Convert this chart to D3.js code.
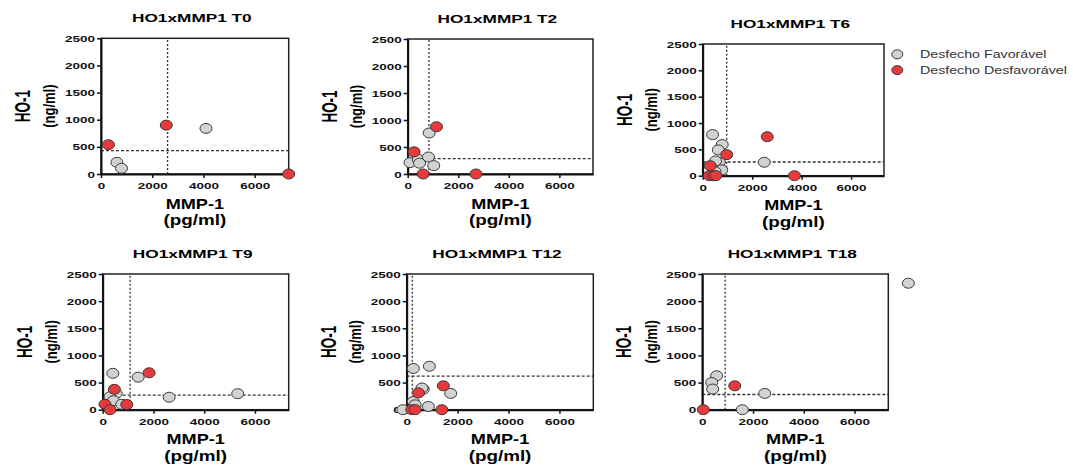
<!DOCTYPE html>
<html>
<head>
<meta charset="utf-8">
<script src="https://cdn.jsdelivr.net/npm/d3@7"></script>
<style>
  body { margin: 0; background: #fff; }
  svg { font-family: "Liberation Sans", Arial, sans-serif; }
</style>
</head>
<body>
<svg id="chart" width="1073" height="465"></svg>
<script>
// values, [MMP-1 pg/ml, HO-1 ng/ml]
const timepoints = ["T0", "T2", "T6", "T9", "T12", "T18"];

const favT0 = [[620, 215], [800, 105], [4100, 840]];
const desT0 = [[290, 540], [2550, 900], [7330, 0]];

const favT2 = [[90, 210], [420, 270], [470, 200], [820, 315], [1030, 155], [850, 760]];
const desT2 = [[250, 410], [1140, 875], [610, 0], [2700, 0]];

const favT6 = [[400, 780], [790, 590], [630, 490], [670, 255], [520, 280], [770, 110], [500, 75], [2490, 255]];
const desT6 = [[300, 190], [270, 0], [440, 0], [530, 0], [970, 400], [2610, 740], [3710, 0]];

const favT9 = [[400, 670], [1400, 600], [530, 300], [290, 240], [420, 165], [750, 100], [2620, 230], [5320, 295]];
const desT9 = [[460, 375], [1830, 680], [90, 100], [290, 0], [950, 95]];

const favT12 = [[260, 760], [890, 800], [1730, 300], [650, 375], [600, 400], [260, 150], [330, 90], [850, 60], [-150, 0]];
const desT12 = [[460, 310], [1440, 440], [200, 0], [330, 0], [1380, 0]];

const favT18 = [[565, 625], [370, 500], [410, 380], [2460, 300], [1580, 0], [8120, 2330]];
const desT18 = [[40, 0], [1280, 440]];

// cut-off lines (dotted)
const cutoffX = [2600, 840, 970, 1080, 220, 900];
const cutoffY = [430, 285, 260, 270, 620, 280];

const xTicks = [0, 2000, 4000, 6000];
const yTicks = [0, 500, 1000, 1500, 2000, 2500];
const xMax = 7330, yMax = 2500;
const legendLabels = ["Desfecho Favorável", "Desfecho Desfavorável"];

const favorable = [favT0, favT2, favT6, favT9, favT12, favT18];
const unfavorable = [desT0, desT2, desT6, desT9, desT12, desT18];

// panel frames in page pixels
const boxes = [
  { l: 101, r: 288.7, t: 38.3, b: 174 },
  { l: 407.7, r: 593, t: 39, b: 174 },
  { l: 702.7, r: 884, t: 44, b: 175.7 },
  { l: 102.7, r: 288.7, t: 274, b: 409.7 },
  { l: 406.7, r: 593.3, t: 274, b: 409.7 },
  { l: 702.3, r: 888.3, t: 274, b: 409.7 }
];

const grayFill = "#d2d2d2", redFill = "#e8393b", edge = "#3a3a3a";

const svg = d3.select("#chart");

// stretched text, the picture is wider than tall
function label(g, x, y, txt, size, sx, weight, rotate) {
  return g.append("text")
    .attr("transform", `translate(${x},${y}) scale(${sx},1)` + (rotate ? " rotate(-90)" : ""))
    .attr("text-anchor", "middle")
    .attr("dy", rotate ? "0.35em" : null)
    .style("font-size", size + "px")
    .style("font-weight", weight)
    .text(txt);
}

timepoints.forEach((tp, i) => {
  const box = boxes[i];
  const x = d3.scaleLinear().domain([0, xMax]).range([box.l, box.r]);
  const y = d3.scaleLinear().domain([0, yMax]).range([box.b, box.t]);
  const g = svg.append("g");
  const cx = (box.l + box.r) / 2;
  const cy = (box.t + box.b) / 2;

  g.append("rect")
    .attr("x", box.l).attr("y", box.t)
    .attr("width", box.r - box.l).attr("height", box.b - box.t)
    .attr("fill", "none").attr("stroke", "#222").attr("stroke-width", 1.5);

  // cut-offs
  g.append("line")
    .attr("x1", x(cutoffX[i])).attr("x2", x(cutoffX[i]))
    .attr("y1", box.b).attr("y2", box.t)
    .attr("stroke", "#333").attr("stroke-width", 1.3).attr("stroke-dasharray", "2,2");
  g.append("line")
    .attr("x1", box.l).attr("x2", box.r)
    .attr("y1", y(cutoffY[i])).attr("y2", y(cutoffY[i]))
    .attr("stroke", "#333").attr("stroke-width", 1.3).attr("stroke-dasharray", "3,2");

  const yAxis = g.append("g")
    .attr("transform", `translate(${box.l},0)`)
    .call(d3.axisLeft(y).tickValues(yTicks).tickFormat(d3.format("d")).tickSize(4).tickSizeOuter(0));
  const xAxis = g.append("g")
    .attr("transform", `translate(0,${box.b})`)
    .call(d3.axisBottom(x).tickValues(xTicks).tickFormat(d3.format("d")).tickSize(4).tickSizeOuter(0));

  [yAxis, xAxis].forEach(a => {
    a.select(".domain").attr("stroke", "#111").attr("stroke-width", 2);
    a.selectAll(".tick line").attr("stroke", "#111").attr("stroke-width", 1.5);
    a.selectAll(".tick text")
      .attr("fill", "#111")
      .style("font-size", "9.5px")
      .style("font-weight", "bold")
      .style("font-family", '"Liberation Sans", Arial, sans-serif');
  });
  yAxis.selectAll(".tick text").attr("x", null).attr("transform", "translate(-6,0) scale(1.42,1)");
  xAxis.selectAll(".tick text").attr("y", null).attr("transform", "translate(0,8.5) scale(1.42,1)");

  // points, favourable underneath
  g.selectAll(".fav")
    .data(favorable[i]).enter().append("ellipse")
    .attr("class", "fav")
    .attr("cx", d => x(d[0])).attr("cy", d => y(d[1]))
    .attr("rx", 6).attr("ry", 5)
    .attr("fill", grayFill).attr("stroke", edge).attr("stroke-width", 1);
  g.selectAll(".des")
    .data(unfavorable[i]).enter().append("ellipse")
    .attr("class", "des")
    .attr("cx", d => x(d[0])).attr("cy", d => y(d[1]))
    .attr("rx", 6).attr("ry", 5)
    .attr("fill", redFill).attr("stroke", edge).attr("stroke-width", 1);

  label(g, cx - 3, box.t - 16, "HO1xMMP1 " + tp, 11.5, 1.5, "bold");
  label(g, cx, box.b + 34.5, "MMP-1", 15.5, 1.17, "bold");
  label(g, cx, box.b + 51, "(pg/ml)", 14.5, 1.3, "bold");
  label(g, box.l - 79, cy, "HO-1", 13.5, 1.7, "bold", true);
  label(g, box.l - 51, cy, "(ng/ml)", 13, 1.2, "bold", true);
});

// legend
const legend = svg.append("g");
legendLabels.forEach((name, i) => {
  const ly = 54.3 + i * 15.8;
  legend.append("ellipse")
    .attr("cx", 897.3).attr("cy", ly)
    .attr("rx", 5.5).attr("ry", 4.5)
    .attr("fill", i === 0 ? grayFill : redFill)
    .attr("stroke", edge).attr("stroke-width", 1);
  legend.append("text")
    .attr("transform", `translate(920,${ly + 3.7}) scale(1.38,1)`)
    .attr("fill", "#333")
    .style("font-size", "10.3px")
    .text(name);
});
</script>
</body>
</html>
